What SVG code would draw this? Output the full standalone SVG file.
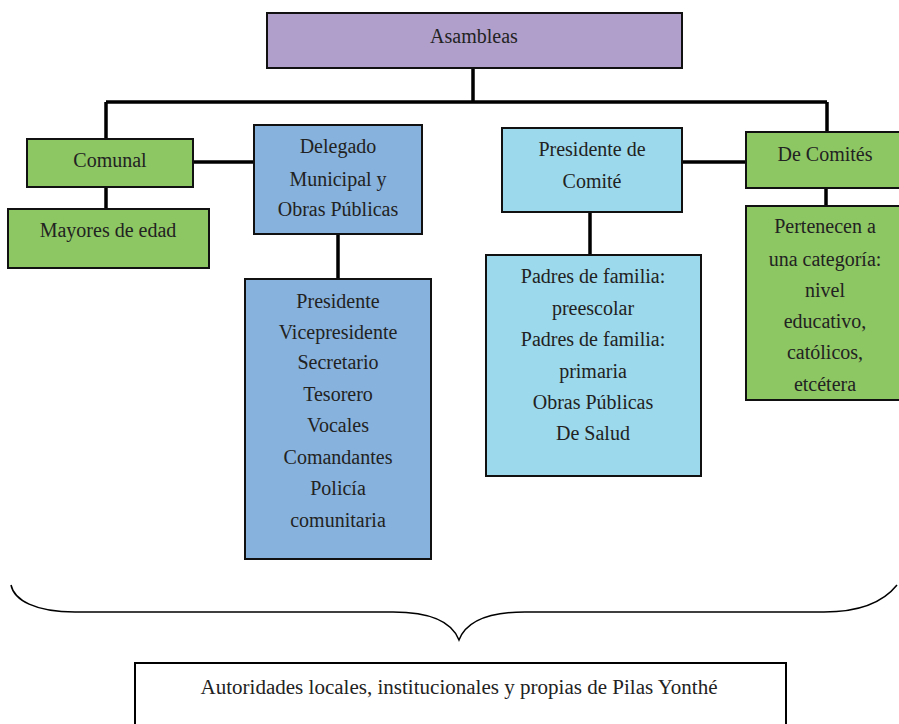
<svg xmlns="http://www.w3.org/2000/svg" width="899" height="724" viewBox="0 0 899 724">
<style>
.box{stroke:#111;stroke-width:2}
.purple{fill:#b09fca}
.green{fill:#8dc763}
.blue{fill:#87b2dd}
.lblue{fill:#9cd9ec}
text{font-family:"Liberation Serif","Times New Roman",serif;font-size:20px;fill:#222;text-anchor:middle}
.conn{stroke:#000;stroke-width:3.5;fill:none}
</style>
<rect width="899" height="724" fill="#fff"/>
<g id="connectors">
<path class="conn" d="M473 68 V102 M106 102 H827 M106 102 V139 M827 102 V132"/>
<path class="conn" d="M193 162 H254"/>
<path class="conn" d="M106 187 V209"/>
<path class="conn" d="M338 234 V279"/>
<path class="conn" d="M682 162 H746"/>
<path class="conn" d="M590 212 V255"/>
<path class="conn" d="M826 188 V206"/>
</g>
<g id="asambleas"><rect class="box purple" x="267" y="13" width="415" height="55"/><text x="474" y="43">Asambleas</text></g>
<g id="comunal"><rect class="box green" x="27" y="139" width="166" height="48"/><text x="110" y="167">Comunal</text></g>
<g id="mayores"><rect class="box green" x="8" y="209" width="201" height="59"/><text x="108" y="237">Mayores de edad</text></g>
<g id="delegado"><rect class="box blue" x="254" y="125" width="168" height="109"/><text x="338" y="153">Delegado</text><text x="338" y="186">Municipal y</text><text x="338" y="216">Obras Públicas</text></g>
<g id="cargos"><rect class="box blue" x="245" y="279" width="186" height="280"/>
<text x="338" y="308">Presidente</text><text x="338" y="339">Vicepresidente</text><text x="338" y="369">Secretario</text><text x="338" y="401">Tesorero</text><text x="338" y="432">Vocales</text><text x="338" y="464">Comandantes</text><text x="338" y="495">Policía</text><text x="338" y="527">comunitaria</text></g>
<g id="presidente-comite"><rect class="box lblue" x="502" y="128" width="180" height="84"/><text x="592" y="156">Presidente de</text><text x="592" y="188">Comité</text></g>
<g id="padres"><rect class="box lblue" x="486" y="255" width="215" height="221"/>
<text x="593" y="283">Padres de familia:</text><text x="593" y="315">preescolar</text><text x="593" y="346">Padres de familia:</text><text x="593" y="378">primaria</text><text x="593" y="409">Obras Públicas</text><text x="593" y="440">De Salud</text></g>
<g id="de-comites"><rect class="box green" x="746" y="132" width="160" height="56"/><text x="825" y="161">De Comités</text></g>
<g id="pertenecen"><rect class="box green" x="746" y="206" width="160" height="194"/>
<text x="825" y="233">Pertenecen a</text><text x="825" y="266">una categoría:</text><text x="825" y="297">nivel</text><text x="825" y="328">educativo,</text><text x="825" y="359">católicos,</text><text x="825" y="391">etcétera</text></g>
<g id="brace"><path d="M11 585 C14 600 35 612 75 612 H393 C430 612 452 622 459 640 C466 622 488 612 525 612 H824 C864 612 885 600 897 585" fill="none" stroke="#000" stroke-width="1.5"/></g>
<g id="autoridades"><rect x="135" y="663" width="651" height="70" fill="#fff" stroke="#000" stroke-width="2"/><text x="459" y="694" textLength="517" lengthAdjust="spacingAndGlyphs">Autoridades locales, institucionales y propias de Pilas Yonthé</text></g>
</svg>
